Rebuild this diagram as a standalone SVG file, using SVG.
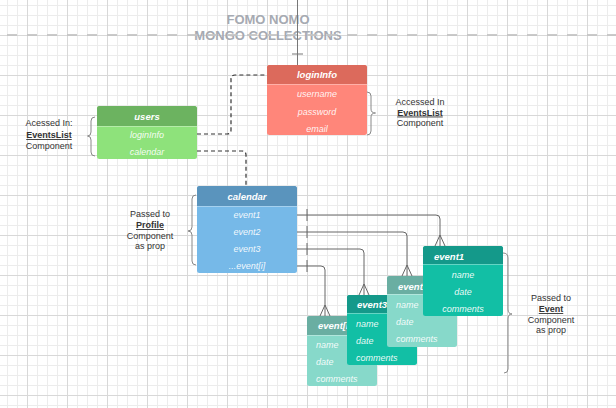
<svg xmlns="http://www.w3.org/2000/svg" width="616" height="408" viewBox="0 0 616 408">
<defs>
<pattern id="grid" patternUnits="userSpaceOnUse" x="27" y="35" width="40" height="40">
<path d="M10.5,0V40M20.5,0V40M30.5,0V40M0,10.5H40M0,20.5H40M0,30.5H40" stroke="#ececec" stroke-width="1" fill="none"/>
<path d="M0.5,0V40M0,0.5H40" stroke="#d8d8d8" stroke-width="1" fill="none"/>
</pattern>
<style>
.hd{font-family:"Liberation Sans",Arial,sans-serif;font-size:9.5px;font-weight:bold;font-style:italic;fill:#fff}
.rw{font-family:"Liberation Sans",Arial,sans-serif;font-size:9px;font-style:italic;fill:#fff;fill-opacity:0.92}
.note{font-family:"Liberation Sans",Arial,sans-serif;font-size:9px;fill:#333;text-anchor:middle}
.nb{font-weight:bold;text-decoration:underline}
.brace{fill:none;stroke:#888;stroke-width:1}
.sep{stroke:#fff;stroke-opacity:0.35;stroke-width:1}
.rel{fill:none;stroke:#666;stroke-width:1}
.dash{fill:none;stroke:#333;stroke-width:1.2;stroke-dasharray:4 3}
.c{text-anchor:middle}
.ttl{font-family:"Liberation Sans",Arial,sans-serif;font-size:13px;font-weight:bold;fill:#a6aab2;text-anchor:middle}
</style>
</defs>
<rect width="616" height="408" fill="#fff"/>
<rect width="616" height="408" fill="url(#grid)"/>

<g id="title">
<text class="ttl" x="268" y="24">FOMO NOMO</text>
<text class="ttl" x="268" y="40">MONGO COLLECTIONS</text>
<line x1="7" y1="35" x2="616" y2="35" stroke="#c4c4c4" stroke-width="2" stroke-dasharray="10 10" stroke-opacity="0.9"/>
</g>

<g id="connectors">
<path d="M297.5,0V65M292,54H303" stroke="#777" stroke-width="1" fill="none"/>
<path class="dash" d="M197,134H227Q231,134 231,130V79Q231,75 235,75H267"/>
<path class="dash" d="M197,151H242Q246,151 246,155V186"/>
<path class="rel" d="M297,215H436Q440,215 440,219V246M307,209V221M435,246L440,235L445,246"/>
<path class="rel" d="M297,232H403Q407,232 407,236V276M307,226V238M402,276L407,265L412,276"/>
<path class="rel" d="M297,249H360Q364,249 364,253V295M307,243V255M359,295L364,284L369,295"/>
<path class="rel" d="M297,266H321Q325,266 325,270V316M307,260V272M320,316L325,305L330,316"/>
</g>

<g id="users">
<rect x="97" y="106" width="100" height="53" rx="2.5" fill="#8ee27b"/>
<path d="M97,126V108.5Q97,106 99.5,106H194.5Q197,106 197,108.5V126Z" fill="#6cb360"/>
<line class="sep" x1="97" y1="126.5" x2="197" y2="126.5"/>
<text class="hd c" x="147" y="120">users</text>
<text class="rw c" x="147" y="138">loginInfo</text>
<text class="rw c" x="147" y="155">calendar</text>
</g>

<g id="users-note">
<path class="brace" d="M95,117Q91,117 91,121V132Q91,136 87.5,136Q91,136 91,140V152Q91,156 95,156"/>
<text class="note" x="49" y="126">Acessed In:</text>
<text class="note nb" x="49" y="138">EventsList</text>
<text class="note" x="49" y="149">Component</text>
</g>

<g id="loginInfo">
<rect x="267" y="65" width="100" height="70" rx="2.5" fill="#ff867a"/>
<path d="M267,84V67.5Q267,65 269.5,65H364.5Q367,65 367,67.5V84Z" fill="#dc6a5c"/>
<line class="sep" x1="267" y1="84.5" x2="367" y2="84.5"/>
<text class="hd c" x="317" y="78">loginInfo</text>
<text class="rw c" x="317" y="97">username</text>
<text class="rw c" x="317" y="115">password</text>
<text class="rw c" x="317" y="132">email</text>
</g>

<g id="loginInfo-note">
<path class="brace" d="M367,92Q371,92 371,96V109Q371,113 375.5,113Q371,113 371,117V131Q371,135 367,135"/>
<text class="note" x="420" y="105">Accessed In</text>
<text class="note nb" x="420" y="115.5">EventsList</text>
<text class="note" x="420" y="126">Component</text>
</g>

<g id="calendar">
<rect x="197" y="186" width="100" height="87" rx="2.5" fill="#76b9e8"/>
<path d="M197,206V188.5Q197,186 199.5,186H294.5Q297,186 297,188.5V206Z" fill="#5a94bd"/>
<line class="sep" x1="197" y1="206.5" x2="297" y2="206.5"/>
<text class="hd c" x="247" y="200">calendar</text>
<text class="rw c" x="247" y="218">event1</text>
<text class="rw c" x="247" y="235">event2</text>
<text class="rw c" x="247" y="252">event3</text>
<text class="rw c" x="247" y="269">...event[i]</text>
</g>

<g id="calendar-note">
<path class="brace" d="M196,195Q192,195 192,199V227Q192,231 188,231Q192,231 192,235V261Q192,265 196,265"/>
<text class="note" x="150" y="217">Passed to</text>
<text class="note nb" x="150" y="228">Profile</text>
<text class="note" x="150" y="239">Component</text>
<text class="note" x="150" y="249">as prop</text>
</g>

<g id="event-i">
<rect x="307" y="316" width="70" height="70" rx="2.5" fill="#87d9ca"/>
<path d="M307,335V318.5Q307,316 309.5,316H374.5Q377,316 377,318.5V335Z" fill="#6aaea2"/>
<line class="sep" x1="307" y1="335.5" x2="377" y2="335.5"/>
<text class="hd" x="318" y="329">event[i]</text>
<text class="rw" x="316" y="348">name</text>
<text class="rw" x="316" y="365">date</text>
<text class="rw" x="316" y="382">comments</text>
</g>

<g id="event3">
<rect x="347" y="295" width="70" height="70" rx="2.5" fill="#12bfa5"/>
<path d="M347,313V297.5Q347,295 349.5,295H414.5Q417,295 417,297.5V313Z" fill="#14998a"/>
<line class="sep" x1="347" y1="313.5" x2="417" y2="313.5"/>
<text class="hd" x="357" y="308">event3</text>
<text class="rw" x="356" y="327">name</text>
<text class="rw" x="356" y="344">date</text>
<text class="rw" x="356" y="361">comments</text>
</g>

<g id="event2">
<rect x="387" y="276" width="70" height="71" rx="2.5" fill="#87d9ca"/>
<path d="M387,294V278.5Q387,276 389.5,276H454.5Q457,276 457,278.5V294Z" fill="#6aaea2"/>
<line class="sep" x1="387" y1="294.5" x2="457" y2="294.5"/>
<text class="hd" x="398" y="290">event2</text>
<text class="rw" x="396" y="308">name</text>
<text class="rw" x="396" y="325">date</text>
<text class="rw" x="396" y="342">comments</text>
</g>

<g id="event1">
<rect x="423" y="246" width="80" height="70" rx="2.5" fill="#12bfa5"/>
<path d="M423,264V248.5Q423,246 425.5,246H500.5Q503,246 503,248.5V264Z" fill="#14998a"/>
<line class="sep" x1="423" y1="264.5" x2="503" y2="264.5"/>
<text class="hd" x="434" y="260">event1</text>
<text class="rw c" x="463" y="278">name</text>
<text class="rw c" x="463" y="295">date</text>
<text class="rw c" x="463" y="312">comments</text>
</g>

<g id="event-note">
<path class="brace" d="M503,253Q508,253 508,258V309Q508,314 512,314Q508,314 508,319V369Q508,373 504,373"/>
<text class="note" x="551" y="301">Passed to</text>
<text class="note nb" x="551" y="312">Event</text>
<text class="note" x="551" y="323">Component</text>
<text class="note" x="551" y="333">as prop</text>
</g>
</svg>
